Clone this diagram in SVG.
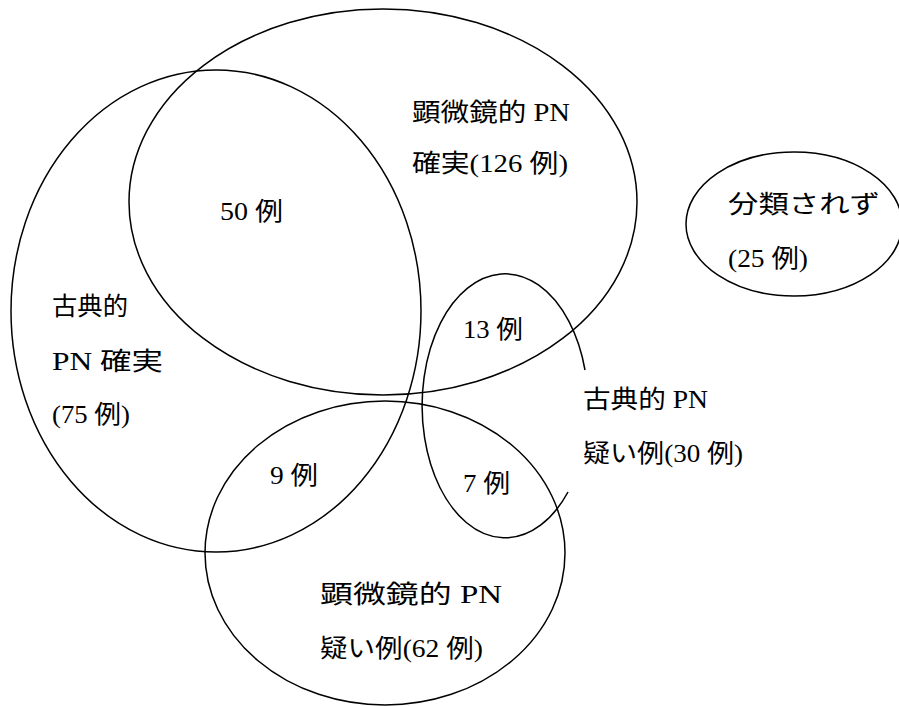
<svg xmlns="http://www.w3.org/2000/svg" width="899" height="706" viewBox="0 0 899 706">
<style>
.s{fill:none;stroke:#000;stroke-width:1.5}
.t{font-family:"Liberation Serif","Noto Sans CJK JP",serif;font-size:25px;fill:#000}
</style>
<rect width="899" height="706" fill="#fff"/>
<g id="micro-sure">
<ellipse class="s" cx="383" cy="202" rx="254" ry="193"/>
<text class="t" x="412" y="121" textLength="158" lengthAdjust="spacingAndGlyphs">顕微鏡的 PN</text>
<text class="t" x="412" y="172" textLength="156" lengthAdjust="spacingAndGlyphs">確実(126 例)</text>
</g>
<g id="classic-sure">
<ellipse class="s" cx="216" cy="311" rx="205" ry="241"/>
<text class="t" x="52" y="315" textLength="76" lengthAdjust="spacingAndGlyphs">古典的</text>
<text class="t" x="52" y="370" textLength="111" lengthAdjust="spacingAndGlyphs">PN 確実</text>
<text class="t" x="52" y="423" textLength="78" lengthAdjust="spacingAndGlyphs">(75 例)</text>
</g>
<g id="micro-doubt">
<ellipse class="s" cx="385" cy="553" rx="180" ry="152"/>
<text class="t" x="320" y="603" textLength="182" lengthAdjust="spacingAndGlyphs">顕微鏡的 PN</text>
<text class="t" x="320" y="657" textLength="163" lengthAdjust="spacingAndGlyphs">疑い例(62 例)</text>
</g>
<g id="classic-doubt">
<path class="s" d="M585 370 A83 132 0 1 0 568 492"/>
<text class="t" x="583" y="408" textLength="125" lengthAdjust="spacingAndGlyphs">古典的 PN</text>
<text class="t" x="583" y="462" textLength="160" lengthAdjust="spacingAndGlyphs">疑い例(30 例)</text>
</g>
<g id="unclassified">
<ellipse class="s" cx="794" cy="224" rx="108" ry="72"/>
<text class="t" x="728" y="213" textLength="152" lengthAdjust="spacingAndGlyphs">分類されず</text>
<text class="t" x="728" y="267" textLength="80" lengthAdjust="spacingAndGlyphs">(25 例)</text>
</g>
<g id="counts">
<text class="t" x="220" y="220" textLength="63" lengthAdjust="spacingAndGlyphs">50 例</text>
<text class="t" x="463" y="338" textLength="60" lengthAdjust="spacingAndGlyphs">13 例</text>
<text class="t" x="270" y="484" textLength="48" lengthAdjust="spacingAndGlyphs">9 例</text>
<text class="t" x="463" y="492" textLength="47" lengthAdjust="spacingAndGlyphs">7 例</text>
</g>
<g id="connectors"></g>
</svg>
